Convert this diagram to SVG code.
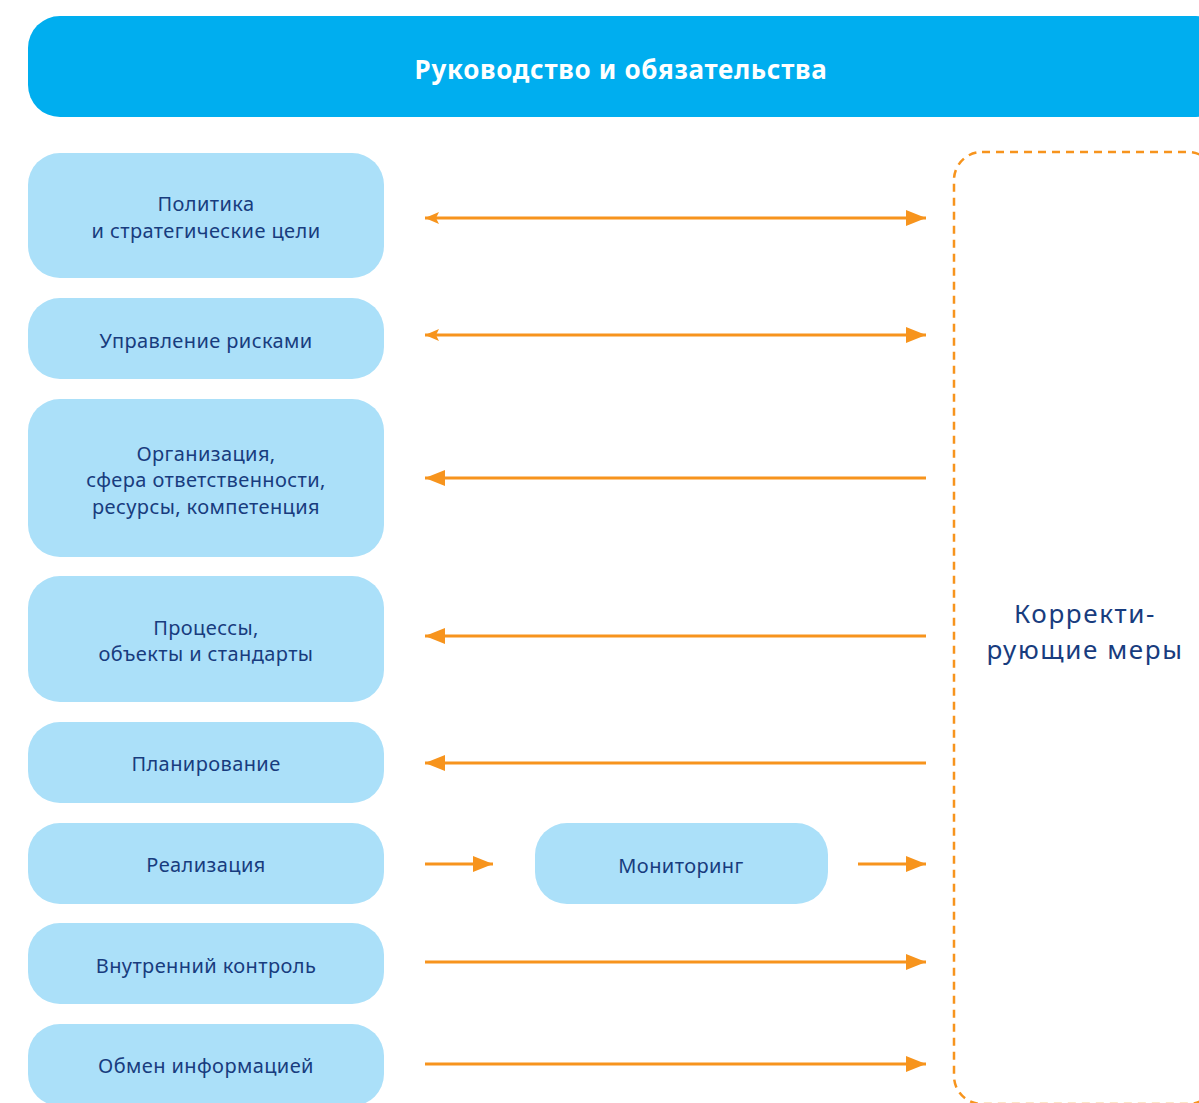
<svg xmlns="http://www.w3.org/2000/svg" width="1199" height="1103" viewBox="0 0 1199 1103">
<defs>
<style>
.node{fill:#ABE0F9}
.lbl{font-family:"Noto Sans","DejaVu Sans",sans-serif;font-size:20px;letter-spacing:0.4px;fill:#183C7E;text-anchor:middle}
.hdr{font-family:"Noto Sans","DejaVu Sans",sans-serif;font-size:26px;letter-spacing:0.7px;font-weight:bold;fill:#FFFFFF;text-anchor:middle}
.big{font-family:"Noto Sans","DejaVu Sans",sans-serif;font-size:26px;letter-spacing:1.6px;fill:#183C7E;text-anchor:middle}
.ln{stroke:#F7941D;stroke-width:3;fill:none}
</style>
<marker id="ah" viewBox="0 0 20 16" refX="20" refY="8" markerWidth="20" markerHeight="16" markerUnits="userSpaceOnUse" orient="auto">
<path d="M0,0 L20,8 L0,16 Z" fill="#F7941D"/>
</marker>
<marker id="at" viewBox="0 0 14 12" refX="0" refY="6" markerWidth="14" markerHeight="12" markerUnits="userSpaceOnUse" orient="auto">
<path d="M0,6 L14,0 L11,6 L14,12 Z" fill="#F7941D"/>
</marker>
</defs>
<rect width="1199" height="1103" fill="#FFFFFF"/>
<g id="header">
<rect x="28" y="16" width="1200" height="101" rx="32" fill="#00AEEF"/>
<text class="hdr" x="621" y="79">Руководство и обязательства</text>
</g>
<g id="corrective">
<rect x="954" y="152" width="262" height="952" rx="28" fill="none" stroke="#F7941D" stroke-width="2.5" stroke-dasharray="8 6"/>
<text class="big" x="1085" y="623">Корректи-</text>
<text class="big" x="1085" y="659">рующие меры</text>
</g>
<g id="n1"><rect class="node" x="28" y="153" width="356" height="125" rx="32"/>
<text class="lbl" x="206" y="211">Политика</text><text class="lbl" x="206" y="238">и стратегические цели</text></g>
<g id="n2"><rect class="node" x="28" y="298" width="356" height="81" rx="32"/>
<text class="lbl" x="206" y="348">Управление рисками</text></g>
<g id="n3"><rect class="node" x="28" y="399" width="356" height="158" rx="32"/>
<text class="lbl" x="206" y="461">Организация,</text><text class="lbl" x="206" y="487">сфера ответственности,</text><text class="lbl" x="206" y="514">ресурсы, компетенция</text></g>
<g id="n4"><rect class="node" x="28" y="576" width="356" height="126" rx="32"/>
<text class="lbl" x="206" y="635">Процессы,</text><text class="lbl" x="206" y="661">объекты и стандарты</text></g>
<g id="n5"><rect class="node" x="28" y="722" width="356" height="81" rx="32"/>
<text class="lbl" x="206" y="771">Планирование</text></g>
<g id="n6"><rect class="node" x="28" y="823" width="356" height="81" rx="32"/>
<text class="lbl" x="206" y="872">Реализация</text></g>
<g id="n7"><rect class="node" x="28" y="923" width="356" height="81" rx="32"/>
<text class="lbl" x="206" y="973">Внутренний контроль</text></g>
<g id="n8"><rect class="node" x="28" y="1024" width="356" height="82" rx="32"/>
<text class="lbl" x="206" y="1073">Обмен информацией</text></g>
<g id="mon"><rect class="node" x="535" y="823" width="293" height="81" rx="32"/>
<text class="lbl" x="681" y="873">Мониторинг</text></g>
<g id="connectors">
<line class="ln" x1="425" y1="218" x2="926" y2="218" marker-start="url(#at)" marker-end="url(#ah)"/>
<line class="ln" x1="425" y1="335" x2="926" y2="335" marker-start="url(#at)" marker-end="url(#ah)"/>
<line class="ln" x1="926" y1="478" x2="425" y2="478" marker-end="url(#ah)"/>
<line class="ln" x1="926" y1="636" x2="425" y2="636" marker-end="url(#ah)"/>
<line class="ln" x1="926" y1="763" x2="425" y2="763" marker-end="url(#ah)"/>
<line class="ln" x1="425" y1="864" x2="493" y2="864" marker-end="url(#ah)"/>
<line class="ln" x1="858" y1="864" x2="926" y2="864" marker-end="url(#ah)"/>
<line class="ln" x1="425" y1="962" x2="926" y2="962" marker-end="url(#ah)"/>
<line class="ln" x1="425" y1="1064" x2="926" y2="1064" marker-end="url(#ah)"/>
</g>
</svg>
